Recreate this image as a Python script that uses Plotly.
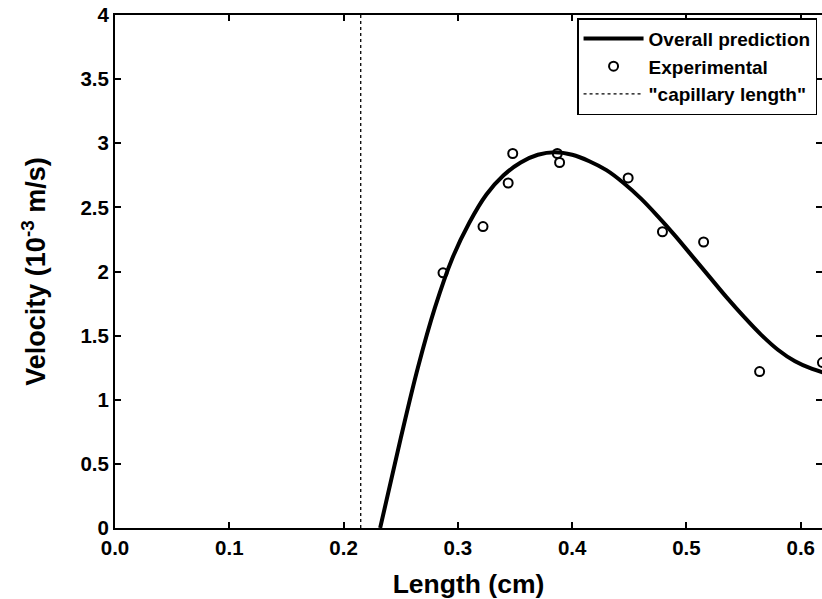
import plotly.graph_objects as go

# Overall prediction curve
curve_x = [0.232, 0.250, 0.265, 0.280, 0.295, 0.310, 0.325, 0.340, 0.355, 0.370, 0.385,
           0.400, 0.415, 0.430, 0.445, 0.460, 0.475, 0.490, 0.505, 0.520, 0.535,
           0.550, 0.565, 0.580, 0.595, 0.610, 0.625]
curve_y = [0.00, 0.70, 1.25, 1.72, 2.10, 2.38, 2.60, 2.75, 2.85, 2.91, 2.93,
           2.91, 2.86, 2.79, 2.69, 2.57, 2.43, 2.28, 2.12, 1.96, 1.80,
           1.65, 1.51, 1.39, 1.30, 1.24, 1.20]

# Experimental points
exp_x = [0.287, 0.322, 0.344, 0.348, 0.387, 0.389, 0.449, 0.479, 0.515, 0.564, 0.619]
exp_y = [1.99, 2.35, 2.69, 2.92, 2.92, 2.85, 2.73, 2.31, 2.23, 1.22, 1.29]

# Capillary length marker
cap_x = [0.215, 0.215]
cap_y = [0.0, 4.0]

x_ticks = [0.0, 0.1, 0.2, 0.3, 0.4, 0.5, 0.6]
y_ticks = [0, 0.5, 1, 1.5, 2, 2.5, 3, 3.5, 4]

FONT = "Liberation Sans, Arial, sans-serif"

fig = go.Figure()
fig.add_trace(go.Scatter(x=curve_x, y=curve_y, mode="lines", name="Overall prediction",
                         line=dict(color="black", width=4, shape="spline")))
fig.add_trace(go.Scatter(x=exp_x, y=exp_y, mode="markers", name="Experimental",
                         marker=dict(symbol="circle-open", size=9, color="black",
                                     line=dict(width=2, color="black"))))
fig.add_trace(go.Scatter(x=cap_x, y=cap_y, mode="lines", name='"capillary length"',
                         line=dict(color="black", width=1.3, dash="dot")))
fig.add_trace(go.Scatter(x=cap_x[:1], y=cap_y[:1], yaxis="y2", mode="markers",
                         marker=dict(opacity=0), showlegend=False, hoverinfo="skip"))

fig.update_layout(
    width=822, height=599,
    margin=dict(l=115, r=0, t=15, b=71),
    plot_bgcolor="white", paper_bgcolor="white",
    font=dict(family=FONT, color="black", size=20, weight="bold"),
    xaxis=dict(range=[0, 0.6186], tickvals=x_ticks, tickformat=".1f",
               ticks="inside", ticklen=6, tickwidth=1.5, tickcolor="black",
               showline=True, linecolor="black", linewidth=2, mirror="ticks",
               showgrid=False, zeroline=False,
               title=dict(text="Length (cm)", font=dict(size=26.5, weight="bold"), standoff=22),
               tickfont=dict(size=20.5, weight="bold")),
    yaxis=dict(range=[0, 4], tickvals=y_ticks,
               ticks="inside", ticklen=6, tickwidth=1.5, tickcolor="black",
               showline=True, linecolor="black", linewidth=2,
               showgrid=False, zeroline=False,
               title=dict(text="Velocity (10<sup>-3</sup> m/s)", font=dict(size=27, weight="bold"),
                          standoff=27),
               tickfont=dict(size=20.5, weight="bold")),
    yaxis2=dict(range=[0, 4], tickvals=y_ticks, overlaying="y", side="right", anchor="x",
                ticks="inside", ticklen=6, tickwidth=1.5, tickcolor="black",
                showline=False, showticklabels=False, showgrid=False, zeroline=False),
    legend=dict(x=0.993, y=0.994, xanchor="right", yanchor="top",
                bgcolor="white", bordercolor="black", borderwidth=1.5,
                font=dict(size=19, weight="bold"), tracegroupgap=0, itemwidth=60),
    showlegend=True,
)

fig.write_html("out.html", config={"displayModeBar": False},
               post_script="document.body.style.margin='0';document.body.style.overflow='hidden';")
